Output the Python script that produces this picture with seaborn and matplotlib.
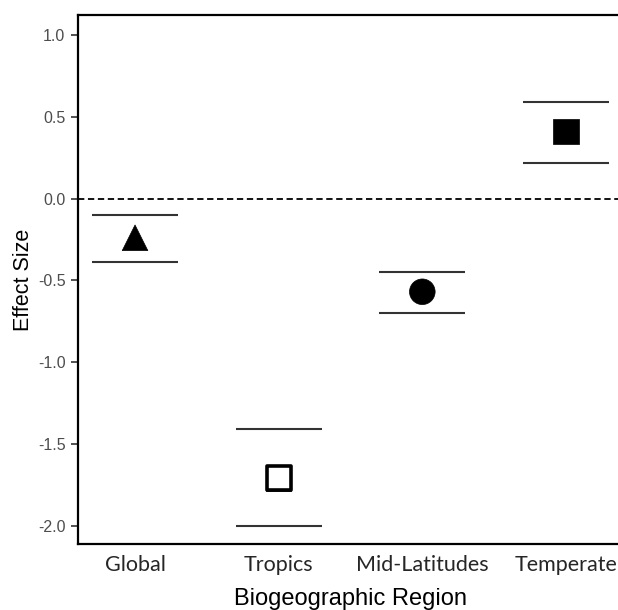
import matplotlib
matplotlib.use("Agg")
import matplotlib.pyplot as plt
import seaborn as sns
import pandas as pd

regions = ["Global", "Tropics", "Mid-Latitudes", "Temperate"]
effect = [-0.24, -1.71, -0.57, 0.41]
ci_upper = [-0.10, -1.41, -0.45, 0.59]
ci_lower = [-0.39, -2.00, -0.70, 0.22]
y_ticks = [1.0, 0.5, 0.0, -0.5, -1.0, -1.5, -2.0]

df = pd.DataFrame({"region": regions, "effect": effect,
                   "upper": ci_upper, "lower": ci_lower})

sns.set_theme(style="white")
plt.rcParams["font.family"] = ["Liberation Sans", "DejaVu Sans"]

fig = plt.figure(figsize=(6.18, 6.10), dpi=100)
ax = fig.add_axes([78/618, 1 - 544/610, 545/618, (544-15)/610])

markers = {"Global": "^", "Tropics": "s", "Mid-Latitudes": "o", "Temperate": "s"}
sns.scatterplot(data=df, x="region", y="effect",
                style="region", markers=markers, s=340, color="black",
                edgecolor="black", linewidth=0.5, legend=False, ax=ax, zorder=3)
idx = regions.index("Tropics")
ax.scatter([idx], [effect[idx]], marker="s", s=300, facecolor="white",
           edgecolor="black", linewidth=2.6, zorder=4)

xs = list(range(len(regions)))
ax.hlines(df["upper"], [x - 0.3 for x in xs], [x + 0.3 for x in xs],
          color="#333333", linewidth=1.5)
ax.hlines(df["lower"], [x - 0.3 for x in xs], [x + 0.3 for x in xs],
          color="#333333", linewidth=1.5)
ax.axhline(0, color="black", linestyle=(0, (3.5, 2)), linewidth=1.3, zorder=1)

ax.set_xlim(-0.397, 3.397)
ax.set_ylim(-2.112, 1.122)
ax.set_xticks(xs)
ax.set_xticklabels(regions, family=["Lato", "DejaVu Sans"], fontsize=15.5, color="#262626")
ax.set_yticks(y_ticks)
ax.set_yticklabels([f"{t:.1f}" for t in y_ticks], fontsize=11.5, color="#4d4d4d")
ax.tick_params(axis="y", length=5, width=1.2, color="#333333", left=True, pad=4)
ax.tick_params(axis="x", length=0, pad=8)

for side in ["left", "bottom", "top"]:
    ax.spines[side].set_visible(True)
    ax.spines[side].set_color("black")
    ax.spines[side].set_linewidth(1.6)
ax.spines["right"].set_visible(False)

ax.set_xlabel("Biogeographic Region", fontsize=17, color="black", labelpad=9)
ax.set_ylabel("Effect Size", fontsize=15.5, color="black", labelpad=3)

fig.savefig("out.png", dpi=100)
